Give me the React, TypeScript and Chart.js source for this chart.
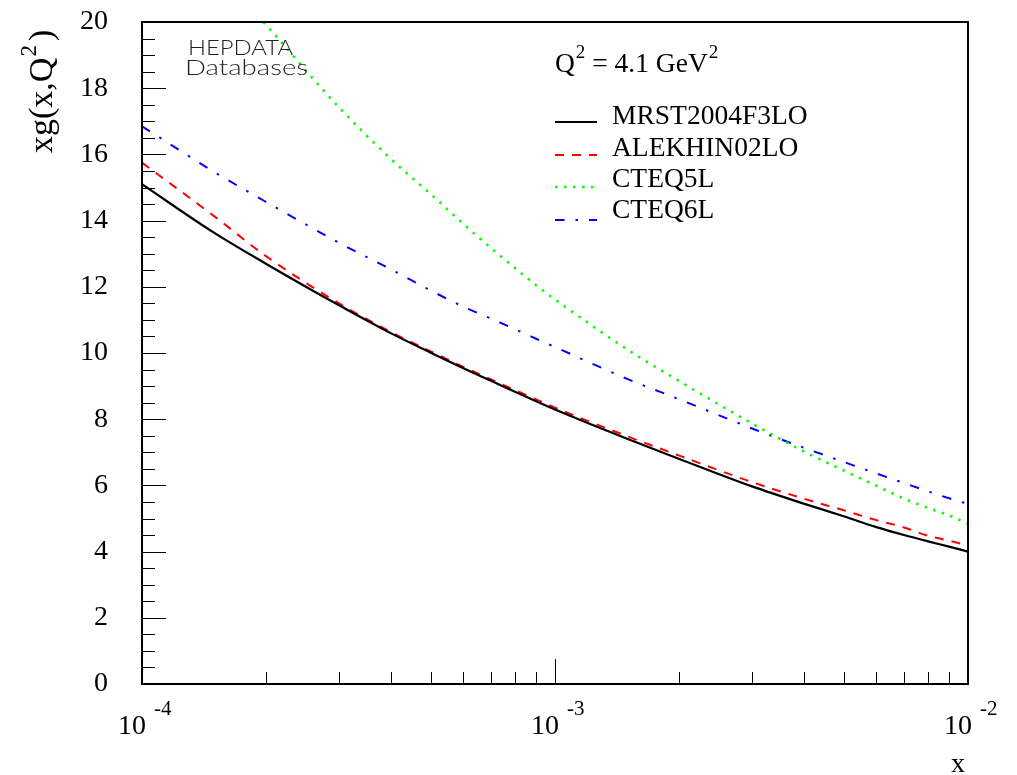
import React, { useEffect, useRef } from 'react';
import { Chart, registerables } from 'chart.js';

Chart.register(...registerables);

// ---- data ----
const xValues = [1e-4, 1.5e-4, 2e-4, 3e-4, 4e-4, 5e-4, 6e-4, 7e-4, 8e-4, 9e-4, 1e-3, 1.5e-3, 2e-3, 3e-3, 4e-3, 5e-3, 6e-3, 7e-3, 8e-3, 9e-3, 1e-2];
const mrst2004f3lo = [15.1, 13.62, 12.69, 11.44, 10.6, 10.01, 9.54, 9.16, 8.83, 8.54, 8.29, 7.4, 6.8, 5.97, 5.45, 5.07, 4.74, 4.5, 4.31, 4.15, 4.0];
const alekhin02lo = [15.75, 14.12, 12.92, 11.5, 10.64, 10.05, 9.58, 9.2, 8.88, 8.6, 8.35, 7.48, 6.9, 6.1, 5.6, 5.25, 4.95, 4.73, 4.48, 4.33, 4.18];
const cteq5l = [null, 21.6, 19.9, 17.42, 15.87, 14.8, 13.9, 13.17, 12.57, 12.05, 11.62, 10.1, 9.15, 7.87, 7.03, 6.45, 5.99, 5.6, 5.32, 5.09, 4.84];
const cteq6l = [16.85, 15.46, 14.56, 13.33, 12.53, 11.89, 11.4, 11.04, 10.72, 10.43, 10.18, 9.21, 8.6, 7.72, 7.14, 6.71, 6.36, 6.07, 5.82, 5.61, 5.44];

const seriesNames = ['MRST2004F3LO', 'ALEKHIN02LO', 'CTEQ5L', 'CTEQ6L'];
const xTickExponents = [-4, -3, -2];
const yMin = 0;
const yMax = 20;
const yMajorStep = 2;
const yMinorStep = 0.5;
const legendHeader = { base: 'Q', mid: ' = 4.1 GeV', sup: '2' };
const yTitle = { base: 'xg(x,Q', sup: '2', tail: ')' };
const xTitle = 'x';
const watermark = ['HEPDATA', 'Databases'];

const SERIF = '"Liberation Serif", "Times New Roman", serif';

function toPoints(vals: (number | null)[]) {
  const pts: { x: number; y: number }[] = [];
  vals.forEach((v, i) => {
    if (v !== null) pts.push({ x: xValues[i], y: v });
  });
  return pts;
}

const decorPlugin = {
  id: 'decor',
  afterDatasetsDraw(chart: any) {
    const { ctx, chartArea: a, scales } = chart;
    const xs = scales.x;
    const ys = scales.y;
    ctx.save();

    // frame
    ctx.strokeStyle = '#000';
    ctx.lineWidth = 2;
    ctx.strokeRect(a.left, a.top, a.right - a.left, a.bottom - a.top);

    // ticks
    ctx.lineWidth = 1;
    ctx.beginPath();
    for (let v = yMin; v <= yMax + 1e-9; v += yMinorStep) {
      const py = Math.round(ys.getPixelForValue(v)) + 0.5;
      const r = v / yMajorStep;
      const major = Math.abs(r - Math.round(r)) < 1e-6;
      ctx.moveTo(a.left, py);
      ctx.lineTo(a.left + (major ? 24 : 13), py);
    }
    for (let e = xTickExponents[0]; e <= xTickExponents[xTickExponents.length - 1]; e++) {
      for (let m = 1; m <= 9; m++) {
        const v = m * Math.pow(10, e);
        if (v > Math.pow(10, xTickExponents[xTickExponents.length - 1]) * 1.0001) break;
        const px = Math.round(xs.getPixelForValue(v)) + 0.5;
        ctx.moveTo(px, a.bottom);
        ctx.lineTo(px, a.bottom - (m === 1 ? 25 : 12));
      }
    }
    ctx.stroke();

    // x tick labels 10^e
    ctx.fillStyle = '#000';
    ctx.textBaseline = 'alphabetic';
    xTickExponents.forEach((e) => {
      const px = xs.getPixelForValue(Math.pow(10, e));
      ctx.font = `28px ${SERIF}`;
      ctx.textAlign = 'right';
      ctx.fillText('10', px + 4, a.bottom + 50);
      ctx.font = `21px ${SERIF}`;
      ctx.textAlign = 'left';
      ctx.fillText(String(e), px + 12, a.bottom + 31);
    });

    // x title
    ctx.font = `28px ${SERIF}`;
    ctx.textAlign = 'center';
    ctx.fillText(xTitle, a.right - 10, a.bottom + 88);

    // y title (rotated)
    ctx.save();
    ctx.translate(52, 153);
    ctx.rotate(-Math.PI / 2);
    ctx.textAlign = 'left';
    ctx.font = `34px ${SERIF}`;
    ctx.fillText(yTitle.base, 0, 0);
    let w = ctx.measureText(yTitle.base).width;
    ctx.font = `23px ${SERIF}`;
    ctx.fillText(yTitle.sup, w + 1, -16);
    w += 1 + ctx.measureText(yTitle.sup).width + 4;
    ctx.font = `34px ${SERIF}`;
    ctx.fillText(yTitle.tail, w, 0);
    ctx.restore();

    // legend header
    const lx = 555;
    ctx.textAlign = 'left';
    ctx.font = `27.5px ${SERIF}`;
    ctx.fillText(legendHeader.base, lx, 72);
    let hx = lx + ctx.measureText(legendHeader.base).width + 1;
    ctx.font = `19px ${SERIF}`;
    ctx.fillText(legendHeader.sup, hx, 58);
    hx += ctx.measureText(legendHeader.sup).width;
    ctx.font = `27.5px ${SERIF}`;
    ctx.fillText(legendHeader.mid, hx, 72);
    hx += ctx.measureText(legendHeader.mid).width + 1;
    ctx.font = `19px ${SERIF}`;
    ctx.fillText(legendHeader.sup, hx, 58);

    // legend entries
    const baselines = [124, 156, 187, 218];
    const lineYs = [122, 155, 187, 220];
    chart.data.datasets.forEach((ds: any, i: number) => {
      ctx.save();
      ctx.strokeStyle = ds.borderColor;
      ctx.lineWidth = ds.borderWidth;
      ctx.setLineDash(ds.borderDash || []);
      ctx.beginPath();
      ctx.moveTo(lx, lineYs[i]);
      ctx.lineTo(lx + 42, lineYs[i]);
      ctx.stroke();
      ctx.restore();
      ctx.fillStyle = '#000';
      ctx.font = `27.5px ${SERIF}`;
      ctx.fillText(ds.label, 612, baselines[i]);
    });

    // watermark
    ctx.fillStyle = '#222';
    const wmFont = '300 21px Lato, "DejaVu Sans", sans-serif';
    const wm = [
      { text: watermark[0], x: 188, y: 55, width: 105 },
      { text: watermark[1], x: 185, y: 75, width: 123 },
    ];
    wm.forEach((t) => {
      ctx.save();
      ctx.font = wmFont;
      const tw = ctx.measureText(t.text).width;
      ctx.translate(t.x, t.y);
      ctx.scale(t.width / tw, 1);
      ctx.fillText(t.text, 0, 0);
      ctx.restore();
    });

    ctx.restore();
  },
};

export default function App() {
  const canvasRef = useRef<HTMLCanvasElement | null>(null);

  useEffect(() => {
    if (!canvasRef.current) return;
    const common = {
      pointRadius: 0,
      fill: false,
      cubicInterpolationMode: 'monotone' as const,
      borderCapStyle: 'butt' as const,
    };
    const chart = new Chart(canvasRef.current, {
      type: 'line',
      data: {
        datasets: [
          { ...common, label: seriesNames[0], data: toPoints(mrst2004f3lo), borderColor: '#000000', borderWidth: 2.2, borderDash: [] },
          { ...common, label: seriesNames[1], data: toPoints(alekhin02lo), borderColor: '#ff0000', borderWidth: 2, borderDash: [9, 8] },
          { ...common, label: seriesNames[2], data: toPoints(cteq5l), borderColor: '#00ff00', borderWidth: 2.5, borderDash: [2.5, 6.5] },
          { ...common, label: seriesNames[3], data: toPoints(cteq6l), borderColor: '#0000ff', borderWidth: 2, borderDash: [9.5, 11, 2.5, 11] },
        ],
      },
      options: {
        responsive: false,
        animation: false,
        parsing: false as any,
        layout: { padding: { top: 22, right: 49, left: 0, bottom: 0 } },
        plugins: { legend: { display: false }, tooltip: { enabled: false }, title: { display: false } },
        scales: {
          x: {
            type: 'logarithmic',
            min: 1e-4,
            max: 1e-2,
            grid: { display: false, drawTicks: false },
            border: { display: false },
            ticks: { display: false },
            afterFit: (s: any) => {
              s.height = 91;
              s.paddingLeft = 0;
              s.paddingRight = 0;
              s.paddingTop = 0;
              s.paddingBottom = 0;
            },
          },
          y: {
            type: 'linear',
            min: yMin,
            max: yMax,
            grid: { display: false, drawTicks: false },
            border: { display: false },
            ticks: {
              stepSize: yMajorStep,
              padding: 34,
              color: '#000',
              font: { family: SERIF, size: 28 },
              callback: (v: any) => String(v),
            },
            afterFit: (s: any) => {
              s.width = 142;
              s.paddingTop = 0;
              s.paddingBottom = 0;
              s.paddingLeft = 0;
              s.paddingRight = 0;
            },
          },
        },
      },
      plugins: [decorPlugin],
    });
    return () => chart.destroy();
  }, []);

  return (
    <div style={{ position: 'absolute', left: 0, top: 0, width: 1017, height: 775, background: '#fff' }}>
      <canvas ref={canvasRef} width={1017} height={775} style={{ display: 'block' }} />
    </div>
  );
}
